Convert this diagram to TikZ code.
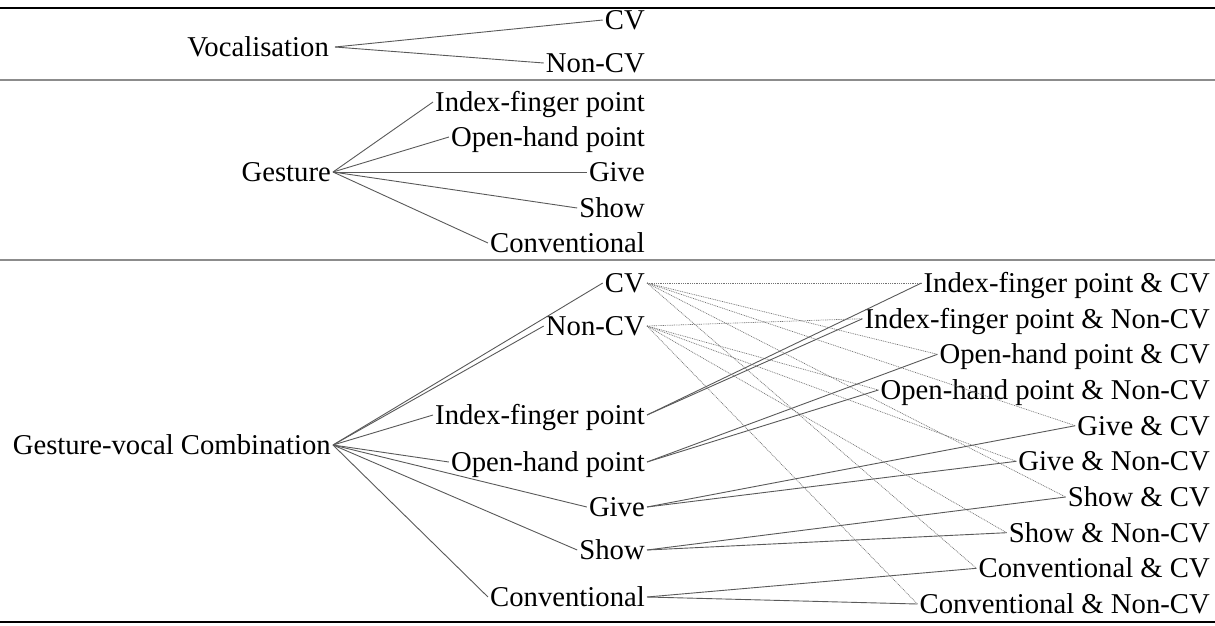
\documentclass[tikz,border=0pt]{standalone}
\usepackage{fontspec}
\setmainfont{Liberation Serif}
\begin{document}
\begin{tikzpicture}[x=1pt,y=-1pt,
  lbl/.style={anchor=east,inner sep=2pt,text height=19pt,text depth=0pt,font=\fontsize{28.7}{34}\selectfont},
  link/.style={draw=black!65,line width=0.9pt},
  dlink/.style={draw=black!55,line width=0.7pt,dash pattern=on 0.9pt off 0.9pt},
  mainrule/.style={draw=black,line width=2pt},
  midrule/.style={draw=black!45,line width=1.4pt}]
\useasboundingbox (0,0) rectangle (1215,625);
% rules
\coordinate (t0) at (0,8); \coordinate (t1) at (1215,8);
\coordinate (m0) at (0,80); \coordinate (m1) at (1215,80);
\coordinate (n0) at (0,260); \coordinate (n1) at (1215,260);
\coordinate (b0) at (0,622); \coordinate (b1) at (1215,622);
\draw[mainrule] (t0) -- (t1);
\draw[midrule] (m0) -- (m1);
\draw[midrule] (n0) -- (n1);
\draw[mainrule] (b0) -- (b1);
% section 1
\node[lbl] (voc) at (331,47) {Vocalisation};
\node[lbl] (v1) at (647,20) {CV};
\node[lbl] (v2) at (647,63) {Non-CV};
\draw[link] ([xshift=4pt]voc.east) -- (v1.west);
\draw[link] ([xshift=4pt]voc.east) -- (v2.west);
% section 2
\node[lbl] (ges) at (333,172) {Gesture};
\node[lbl] (g1) at (647,102) {Index-finger point};
\node[lbl] (g2) at (647,137) {Open-hand point};
\node[lbl] (g3) at (647,172) {Give};
\node[lbl] (g4) at (647,208) {Show};
\node[lbl] (g5) at (647,243) {Conventional};
\foreach \i in {1,...,5} \draw[link] (ges.east) -- (g\i.west);
% section 3
\node[lbl] (gvc) at (333,445) {Gesture-vocal Combination};
\node[lbl] (c1) at (647,283) {CV};
\node[lbl] (c2) at (647,326) {Non-CV};
\node[lbl] (c3) at (647,415) {Index-finger point};
\node[lbl] (c4) at (647,462) {Open-hand point};
\node[lbl] (c5) at (647,507) {Give};
\node[lbl] (c6) at (647,550) {Show};
\node[lbl] (c7) at (647,597) {Conventional};
\foreach \i in {1,...,7} \draw[link] (gvc.east) -- (c\i.west);
\node[lbl] (r1) at (1212,283) {Index-finger point \& CV};
\node[lbl] (r2) at (1212,318.7) {Index-finger point \& Non-CV};
\node[lbl] (r3) at (1212,354.3) {Open-hand point \& CV};
\node[lbl] (r4) at (1212,390) {Open-hand point \& Non-CV};
\node[lbl] (r5) at (1212,425.7) {Give \& CV};
\node[lbl] (r6) at (1212,461.3) {Give \& Non-CV};
\node[lbl] (r7) at (1212,497) {Show \& CV};
\node[lbl] (r8) at (1212,532.7) {Show \& Non-CV};
\node[lbl] (r9) at (1212,568.3) {Conventional \& CV};
\node[lbl] (r10) at (1212,604) {Conventional \& Non-CV};
% solid links from gestures
\draw[link] (c3.east) -- (r1.west);
\draw[link] (c3.east) -- (r2.west);
\draw[link] (c4.east) -- (r3.west);
\draw[link] (c4.east) -- (r4.west);
\draw[link] (c5.east) -- (r5.west);
\draw[link] (c5.east) -- (r6.west);
\draw[link] (c6.east) -- (r7.west);
\draw[link] (c6.east) -- (r8.west);
\draw[link] (c7.east) -- (r9.west);
\draw[link] (c7.east) -- (r10.west);
% dotted links from vocal types
\foreach \j in {1,3,5,7,9} \draw[dlink] (c1.east) -- (r\j.west);
\foreach \j in {2,4,6,8,10} \draw[dlink] (c2.east) -- (r\j.west);
\end{tikzpicture}
\end{document}
